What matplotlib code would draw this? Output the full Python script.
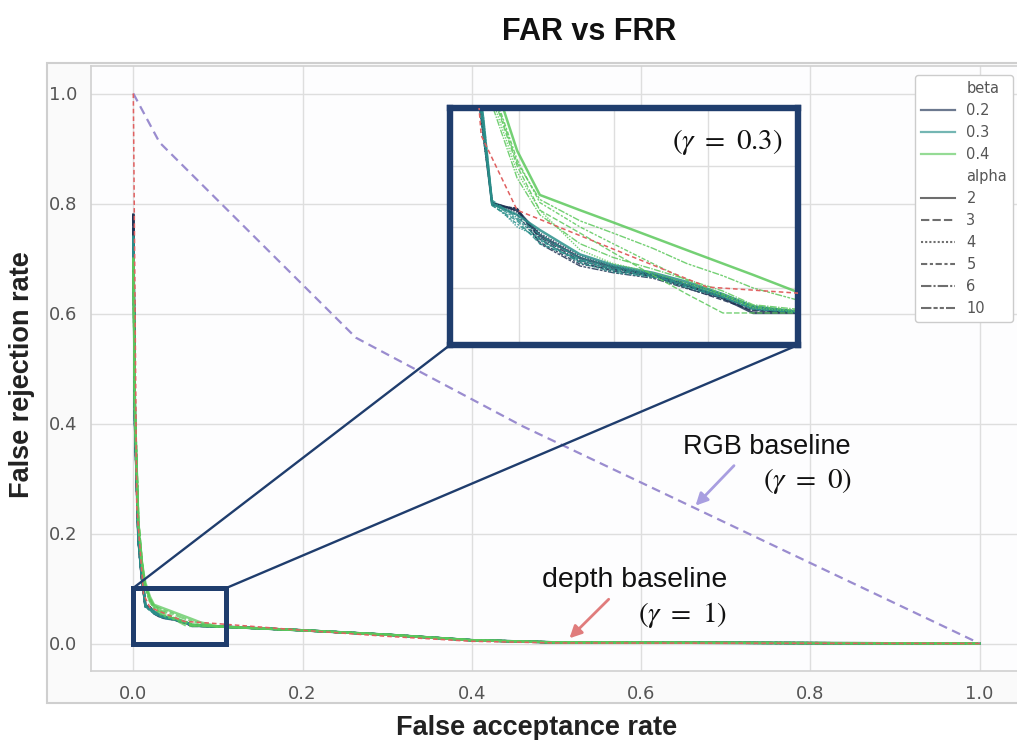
import matplotlib
matplotlib.use("Agg")
import matplotlib.pyplot as plt
from matplotlib.patches import Rectangle, ConnectionPatch
from matplotlib.lines import Line2D

# ---------------- data ----------------
betas = ["0.2", "0.3", "0.4"]
alphas = ["2", "3", "4", "5", "6", "10"]

far_head = [0.0, 0.002, 0.006, 0.010]
frr_head_b02 = [0.78, 0.40, 0.19, 0.12]
frr_head_b03 = [0.74, 0.40, 0.19, 0.12]
frr_head_b04 = [0.70, 0.42, 0.22, 0.15]

far_zoom = [0.0124, 0.0143, 0.0196, 0.0244, 0.0329, 0.0399, 0.0483, 0.0555, 0.0631, 0.0695, 0.079]
frr_zoom_b02 = [
    [0.092, 0.0678, 0.0655, 0.0573, 0.0498, 0.0468, 0.0442, 0.0409, 0.0367, 0.0318, 0.0318],
    [0.094, 0.0672, 0.0660, 0.0560, 0.0485, 0.0455, 0.0440, 0.0400, 0.0360, 0.0325, 0.0320],
    [0.090, 0.0680, 0.0648, 0.0580, 0.0505, 0.0472, 0.0448, 0.0412, 0.0372, 0.0330, 0.0322],
    [0.093, 0.0675, 0.0640, 0.0550, 0.0478, 0.0460, 0.0436, 0.0404, 0.0375, 0.0335, 0.0325],
    [0.091, 0.0682, 0.0652, 0.0566, 0.0490, 0.0462, 0.0445, 0.0415, 0.0380, 0.0340, 0.0320],
    [0.095, 0.0670, 0.0662, 0.0545, 0.0472, 0.0450, 0.0432, 0.0398, 0.0365, 0.0328, 0.0318],
]
frr_zoom_b03 = [
    [0.096, 0.0676, 0.0640, 0.0590, 0.0510, 0.0475, 0.0450, 0.0420, 0.0380, 0.0340, 0.0322],
    [0.092, 0.0670, 0.0620, 0.0545, 0.0492, 0.0458, 0.0438, 0.0410, 0.0372, 0.0330, 0.0319],
    [0.094, 0.0684, 0.0600, 0.0565, 0.0500, 0.0470, 0.0446, 0.0414, 0.0378, 0.0338, 0.0324],
    [0.090, 0.0672, 0.0610, 0.0555, 0.0488, 0.0462, 0.0441, 0.0406, 0.0370, 0.0332, 0.0321],
    [0.097, 0.0688, 0.0630, 0.0575, 0.0495, 0.0466, 0.0444, 0.0411, 0.0376, 0.0336, 0.0323],
    [0.093, 0.0679, 0.0625, 0.0560, 0.0482, 0.0452, 0.0435, 0.0402, 0.0368, 0.0331, 0.0320],
]
frr_zoom_b04 = [
    [0.125, 0.110, 0.085, 0.0705, 0.0655, 0.0615, 0.0566, 0.0524, 0.0480, 0.0443, 0.0386],
    [0.120, 0.104, 0.080, 0.0655, 0.0580, 0.0516, 0.0442, 0.0380, 0.0318, 0.0318, 0.0318],
    [0.118, 0.102, 0.078, 0.0655, 0.0525, 0.0480, 0.0450, 0.0415, 0.0375, 0.0335, 0.0322],
    [0.122, 0.106, 0.082, 0.0680, 0.0600, 0.0545, 0.0480, 0.0425, 0.0380, 0.0340, 0.0326],
    [0.115, 0.100, 0.076, 0.0640, 0.0545, 0.0500, 0.0462, 0.0428, 0.0390, 0.0345, 0.0330],
    [0.119, 0.105, 0.081, 0.0690, 0.0620, 0.0580, 0.0530, 0.0480, 0.0440, 0.0400, 0.0360],
]

far_tail = [0.1, 0.2, 0.3, 0.4, 0.5, 1.0]
frr_tail = [0.031, 0.024, 0.016, 0.006, 0.002, 0.0]

far_rgb = [0.0, 0.031, 0.263, 0.46, 1.0]
frr_rgb = [1.0, 0.911, 0.556, 0.395, 0.0]

far_depth = [0.0, 0.004, 0.012, 0.0196, 0.0598, 0.079, 0.1, 0.2, 0.3, 0.4, 0.5, 1.0]
frr_depth = [1.0, 0.25, 0.09, 0.0655, 0.0403, 0.0383, 0.036, 0.024, 0.013, 0.004, 0.001, 0.0]

x_ticks = [0.0, 0.2, 0.4, 0.6, 0.8, 1.0]
y_ticks = [0.0, 0.2, 0.4, 0.6, 0.8, 1.0]

# ---------------- style ----------------
plt.rcParams['mathtext.fontset'] = 'stix'
W, H = 1017, 740
beta_colors = ['#1e3253', '#2a8f8a', '#5cc85c']
heads = [frr_head_b02, frr_head_b03, frr_head_b04]
zooms = [frr_zoom_b02, frr_zoom_b03, frr_zoom_b04]
dash_styles = [(None, None), (4, 1.5), (1, 1), (3, 1.25, 1.5, 1.25), (5, 1, 1, 1), (5, 1, 2, 1, 2, 1)]
navy = '#1f3d6d'
grid_c = '#dedede'
tick_c = '#555555'


def fx(px):
    return px / W


def fy(py):
    return 1 - py / H


fig = plt.figure(figsize=(W / 100, H / 100), dpi=100, facecolor='white')

# outer frame
fig.patches.append(Rectangle((fx(47), fy(703)), 1.0, (703 - 63) / H,
                             transform=fig.transFigure, facecolor='#fafafa',
                             edgecolor='#cfcfcf', lw=1.5, zorder=-5))

ax = fig.add_axes([fx(91), fy(671), (1022 - 91) / W, (671 - 66) / H])
ax.set_facecolor('#fdfdfe')
ax.set_xlim(-0.05, 1.05)
ax.set_ylim(-0.05, 1.05)
ax.set_xticks(x_ticks)
ax.set_yticks(y_ticks)
ax.set_xticklabels([f"{v:.1f}" for v in x_ticks])
ax.set_yticklabels([f"{v:.1f}" for v in y_ticks])
ax.tick_params(length=0, labelsize=13, labelcolor=tick_c, pad=10)
ax.grid(True, color=grid_c, lw=1.0)
ax.set_axisbelow(True)
for s in ax.spines.values():
    s.set_color('#d0d0d0')
    s.set_linewidth(1.2)


def draw_curves(a, lw_main, lw_first, alpha_v):
    for bi in range(3):
        for ai in range(6):
            xs = far_head + far_zoom + far_tail
            ys = heads[bi] + zooms[bi][ai] + frr_tail
            ln, = a.plot(xs, ys, color=beta_colors[bi],
                         lw=(lw_first if ai == 0 else lw_main), alpha=alpha_v, zorder=2)
            if dash_styles[ai][0] is not None:
                ln.set_dashes(dash_styles[ai])
    lr, = a.plot(far_rgb, frr_rgb, color='#9a8ccf', lw=1.6, zorder=3)
    lr.set_dashes((4, 2.5))
    ld, = a.plot(far_depth, frr_depth, color='#e06060', lw=1.1, zorder=4)
    ld.set_dashes((3, 2))


draw_curves(ax, 1.6, 1.8, 0.75)

# zoom box on main axes
ax.add_patch(Rectangle((0.0, 0.0), 0.11, 0.101, fill=False, edgecolor=navy, lw=3.6, zorder=6))

# inset
axin = fig.add_axes([fx(450), fy(345), 348 / W, 237 / H], zorder=5)
axin.set_facecolor('white')
draw_curves(axin, 1.0, 1.8, 0.85)
axin.set_xlim(0.0054, 0.079)
axin.set_ylim(0.0213, 0.099)
axin.set_xticks([0.02, 0.04, 0.06])
axin.set_yticks([0.04, 0.06, 0.08])
axin.tick_params(length=0, labelbottom=False, labelleft=False)
axin.grid(True, color=grid_c, lw=1.0)
axin.set_axisbelow(True)
for s in axin.spines.values():
    s.set_color(navy)
    s.set_linewidth(4.6)
axin.text(0.796, 0.857, r'$(\gamma\ =\ 0.3)$', transform=axin.transAxes,
          ha='center', va='center', fontsize=21, color='#111111')

for xa, xb in [((0.0, 0.101), (0, 0)), ((0.11, 0.101), (1, 0))]:
    con = ConnectionPatch(xyA=xa, coordsA=ax.transData, xyB=xb, coordsB=axin.transAxes,
                          color=navy, lw=1.7, zorder=4)
    fig.add_artist(con)

# annotations
ax.text(0.649, 0.345, 'RGB baseline', fontsize=19.5, family='Liberation Sans',
        ha='left', va='baseline', color='#111111', zorder=7)
ax.text(0.796, 0.295, r'$(\gamma\ =\ 0)$', fontsize=21, ha='center', va='center',
        color='#111111', zorder=7)
ax.annotate('', xy=(0.662, 0.247), xytext=(0.712, 0.327),
            arrowprops=dict(arrowstyle='-|>', color='#a89ee0', lw=2, mutation_scale=18), zorder=7)
ax.text(0.483, 0.102, 'depth baseline', fontsize=20.5, family='Liberation Sans',
        ha='left', va='baseline', color='#111111', zorder=7)
ax.text(0.649, 0.051, r'$(\gamma\ =\ 1)$', fontsize=21, ha='center', va='center',
        color='#111111', zorder=7)
ax.annotate('', xy=(0.513, 0.006), xytext=(0.564, 0.084),
            arrowprops=dict(arrowstyle='-|>', color='#e07c7c', lw=2, mutation_scale=18), zorder=7)

# legend
handles = [Line2D([], [], color='none')]
labels = ['beta']
for bi, b in enumerate(betas):
    handles.append(Line2D([], [], color=beta_colors[bi], lw=1.6, alpha=0.65))
    labels.append(b)
handles.append(Line2D([], [], color='none'))
labels.append('alpha')
for ai, a_ in enumerate(alphas):
    l = Line2D([], [], color='#555555', lw=1.5, alpha=0.85)
    if dash_styles[ai][0] is not None:
        l.set_dashes(dash_styles[ai])
    handles.append(l)
    labels.append(a_)
leg = fig.legend(handles, labels, loc='upper right', bbox_to_anchor=(fx(1013), fy(75)),
                 bbox_transform=fig.transFigure, fontsize=10.5, handlelength=2.3,
                 labelspacing=0.48, borderpad=0.4, borderaxespad=0, frameon=True, framealpha=1,
                 facecolor='white', edgecolor='#cccccc')
for t in leg.get_texts():
    t.set_color('#555555')

# titles / labels
fig.text(fx(589), fy(32), 'FAR vs FRR', ha='center', va='center', fontsize=22,
         fontweight='bold', family='Liberation Sans', color='#111111')
fig.text(fx(537), fy(735), 'False acceptance rate', ha='center', va='baseline', fontsize=19.5,
         fontweight='bold', family='Liberation Sans', color='#222222')
fig.text(fx(22), fy(375), 'False rejection rate', ha='center', va='center', rotation=90,
         fontsize=19.5, fontweight='bold', family='Liberation Sans', color='#222222')

fig.savefig('out.png', dpi=100, facecolor='white')
